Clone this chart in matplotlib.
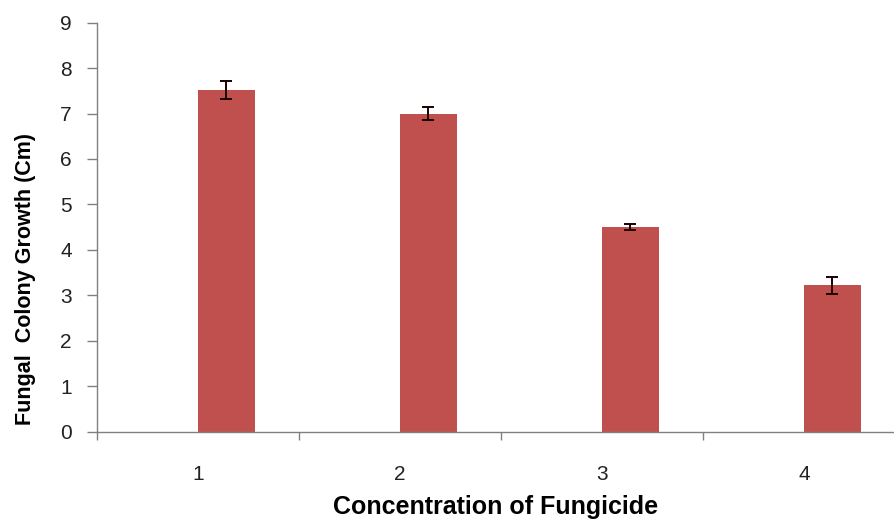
import numpy as np
import matplotlib.pyplot as plt
from matplotlib.ticker import FixedLocator

plt.rcParams["font.family"] = ["Liberation Sans", "DejaVu Sans"]

categories = ["1", "2", "3", "4"]
growth = [7.52, 7.0, 4.5, 3.22]
errors = [0.19, 0.14, 0.06, 0.19]

fig = plt.figure(figsize=(8.95, 5.23), dpi=100)
ax = fig.add_axes([97 / 895, 1 - 431.5 / 523, 1 - 97 / 895, (431.5 - 22.7) / 523])

x = np.arange(1, len(categories) + 1)
bar_w = 0.28
ax.bar(x, growth, width=bar_w, align="edge", color="#C0504D", zorder=2)
ax.errorbar(x + bar_w / 2, growth, yerr=errors, fmt="none", ecolor="#1a0000",
            elinewidth=1.4, capsize=4.5, capthick=1.4, zorder=3)

ax.set_xlim(0.5, 4.45)
ax.set_ylim(0, 9)
ax.set_yticks(range(0, 10))

# category boundaries get tick marks, labels sit in the middle
ax.xaxis.set_major_locator(FixedLocator([0.5, 1.5, 2.5, 3.5]))
ax.xaxis.set_major_formatter(plt.NullFormatter())
ax.xaxis.set_minor_locator(FixedLocator(x))
ax.set_xticklabels(categories, minor=True)
ax.tick_params(axis="x", which="major", length=6, width=1, color="#808080", direction="out")
ax.tick_params(axis="x", which="minor", length=0, pad=24, labelsize=15, labelcolor="#222222")
ax.tick_params(axis="y", length=7, width=1, color="#808080", pad=11,
               labelsize=15, labelcolor="#222222")

for side in ["top", "right"]:
    ax.spines[side].set_visible(False)
for side in ["left", "bottom"]:
    ax.spines[side].set_color("#808080")
    ax.spines[side].set_linewidth(1)

ax.set_xlabel("Concentration of Fungicide", fontsize=18, fontweight="bold", labelpad=8)
ax.set_ylabel("Fungal  Colony Growth (Cm)", fontsize=15.5, fontweight="bold")
ax.yaxis.set_label_coords(-0.076, 0.373)

fig.savefig("out.png", dpi=100)
